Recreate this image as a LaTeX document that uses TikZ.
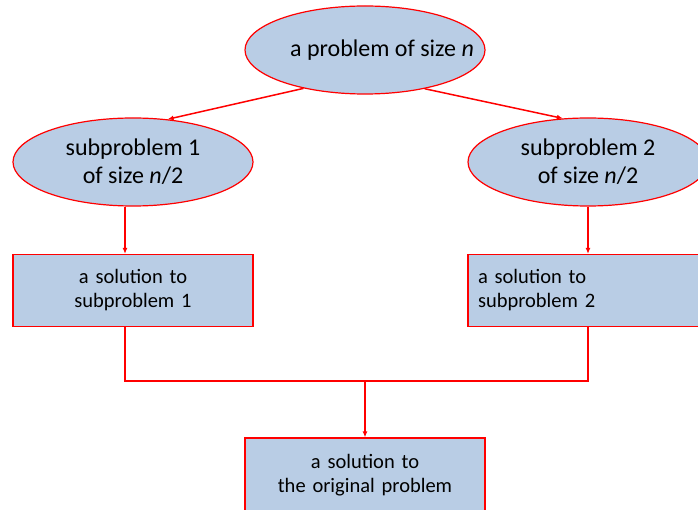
\documentclass[tikz,border=0pt]{standalone}
\usepackage{fontspec}
\setmainfont{Carlito}
\usetikzlibrary{shapes.geometric,arrows.meta}
\definecolor{probblue}{HTML}{B9CDE5}

\begin{document}
\begin{tikzpicture}[x=1pt,y=-1pt,
    probnode/.style={draw=red, fill=probblue, ellipse, line width=1.2pt,
        minimum width=240pt, minimum height=88pt, inner sep=0pt,
        align=center, font=\fontsize{24}{28}\selectfont},
    solnode/.style={draw=red, fill=probblue, rectangle, line width=1.2pt,
        minimum width=240pt, minimum height=72pt, text width=220pt,
        inner sep=0pt, font=\fontsize{20.5}{24}\selectfont},
    link/.style={red, line width=1.5pt, -{Latex[length=6pt,width=5pt]}}]

\useasboundingbox (0,0) rectangle (698,510);

\node[probnode] (prob) at (365,50) {\makebox[0pt]{\hspace*{34pt}a problem of size \textit{n}}};

\node[probnode] (sub1) at (133,162) { subproblem 1\\of size \textit{n}/2 };

\node[probnode] (sub2) at (588,162) { subproblem 2\\of size \textit{n}/2 };

\node[solnode,
    align=center
] (sol1) at (133,290.5) { a solution to\\subproblem 1 };

\node[solnode,
    align=left
] (sol2) at (588,290.5) { a solution to\\subproblem 2 };

\node[solnode,
    align=center,
    minimum height=74pt
] (final) at (365,475) { a solution to\\the original problem };

\coordinate (join) at (365,381);

\draw[link] (prob.212) -- (sub1.51);
\draw[link] (prob.327) -- (sub2.120);

\draw[link] ([xshift=-8pt]sub1.south) -- ([xshift=-8pt]sol1.north);
\draw[link] (sub2) -- (sol2);

\draw[red, line width=1.5pt] ([xshift=-8pt]sol1.south) |- (join) -| (sol2.south);
\draw[link] (join) -- (final);

\end{tikzpicture}
\end{document}
